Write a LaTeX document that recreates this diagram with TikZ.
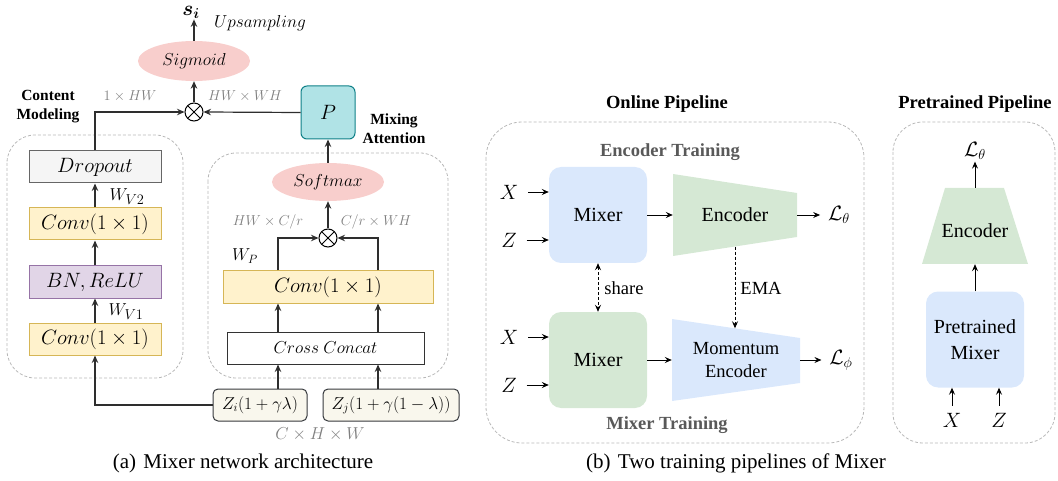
\documentclass[tikz,border=0pt]{standalone}
\usepackage{amsmath}
\usepackage[no-math]{fontspec}
\setmainfont{Liberation Serif}
\usetikzlibrary{shapes.geometric,arrows.meta,calc}

\definecolor{dropF}{HTML}{F5F5F5}\definecolor{dropD}{HTML}{666666}
\definecolor{yelF}{HTML}{FFF2CC}\definecolor{yelD}{HTML}{D6B656}
\definecolor{purF}{HTML}{E1D5E7}\definecolor{purD}{HTML}{9673A6}
\definecolor{pinkF}{HTML}{F8CECC}
\definecolor{tealF}{HTML}{B0E3E6}\definecolor{tealD}{HTML}{0E8088}
\definecolor{zF}{HTML}{F9F7ED}\definecolor{zD}{HTML}{36393D}
\definecolor{blueF}{HTML}{DAE8FC}\definecolor{greenF}{HTML}{D5E8D4}
\definecolor{grpD}{HTML}{B8B8B8}\definecolor{labG}{HTML}{7F7F7F}
\definecolor{subG}{HTML}{595959}

\tikzset{
  fs/.style={font=\rmfamily\fontsize{#1}{#1}\selectfont},
  blk/.style={draw, line width=1pt, minimum width=132pt, minimum height=32pt,
    inner sep=0pt, fs=20},
  ell/.style={ellipse, fill=pinkF, minimum width=112pt, minimum height=40pt,
    inner sep=0pt, fs=17.5},
  mul/.style={circle, draw, line width=1pt, minimum size=18pt, inner sep=0pt,
    path picture={\draw[line width=0.9pt]
      (path picture bounding box.north west)--(path picture bounding box.south east)
      (path picture bounding box.north east)--(path picture bounding box.south west);}},
  zbox/.style={draw=zD, fill=zF, line width=1pt, rounded corners=5pt,
    minimum height=32pt, inner sep=0pt, fs=18},
  grp/.style={draw=grpD, line width=0.8pt, dash pattern=on 3pt off 2pt},
  larr/.style={-{Stealth[length=7.5pt,width=6.5pt,inset=2.5pt]}, line width=1.2pt, draw=black!82},
  rarr/.style={-{Stealth[length=7pt,width=6pt,inset=2.5pt]}, line width=0.9pt, draw=black},
  glab/.style={text=labG, inner sep=0pt, fs=#1},
  title/.style={font=\rmfamily\fontsize{18.5}{22}\selectfont\bfseries},
  subt/.style={text=subG, font=\rmfamily\fontsize{18.5}{22}\selectfont\bfseries},
  mixbox/.style={rounded corners=12pt, minimum width=98pt, minimum height=96pt,
    inner sep=0pt, fs=20},
  mlab/.style={inner sep=0pt, fs=21},
}

\begin{document}
\begin{tikzpicture}[x=1pt,y=-1pt]
\useasboundingbox (0,0) rectangle (1058,481);

% ---------- (a) Mixer network architecture ----------
\draw[grp, rounded corners=28pt] (7,135) rectangle (183,378);
\draw[grp, rounded corners=28pt] (208,153) rectangle (448,378);

\node[blk, fill=dropF, draw=dropD] (drop) at (95,167) {$Dropout$};
\node[blk, fill=yelF, draw=yelD] (conv2) at (95,224) {$Conv(1\times 1)$};
\node[blk, fill=purF, draw=purD] (bn) at (95,282) {$BN, ReLU$};
\node[blk, fill=yelF, draw=yelD] (conv1) at (95,339) {$Conv(1\times 1)$};

\node[mul] (m1) at (194,112) {};
\node[ell] (sig) at (194,61) {$Sigmoid$};
\node[inner sep=1pt, fs=20] (si) at (191,12) {$\boldsymbol{s_i}$};
\node[inner sep=0pt, fs=17.5] (up) at (260,23) {$Upsampling$};
\node[draw=tealD, fill=tealF, line width=1pt, rounded corners=6pt,
  minimum width=54pt, minimum height=53pt, inner sep=0pt, fs=20] (P) at (328,112.5) {$P$};

\node[align=center, font=\rmfamily\fontsize{15.5}{19}\selectfont\bfseries] (cm) at (48,107) {Content\\Modeling};
\node[align=center, font=\rmfamily\fontsize{15.5}{19}\selectfont\bfseries] (ma) at (394,129) {Mixing\\Attention};

\node[glab=14] (l1hw) at (130,96) {$1\times HW$};
\node[glab=14.5] (lhwwh) at (245,96) {$HW\times WH$};
\node[inner sep=0pt, fs=19] (wv2) at (127,197) {$W_{V2}$};
\node[inner sep=0pt, fs=19] (wv1) at (126,312) {$W_{V1}$};

\draw[larr] (drop.north) |- (m1.west);
\draw[larr] (P.west) -- (m1.east);
\draw[larr] (m1.north) -- (sig.south);
\draw[larr] (sig.north) -- (sig.north |- si.south);
\draw[larr] (conv2.north) -- (drop.south);
\draw[larr] (bn.north) -- (conv2.south);
\draw[larr] (conv1.north) -- (bn.south);

\node[ell, minimum height=38pt] (soft) at (328,182) {$Softmax$};
\node[mul] (m2) at (328,238) {};
\node[blk, fill=yelF, draw=yelD, minimum width=210pt] (conv3) at (328,287) {$Conv(1\times 1)$};
\node[blk, fill=white, draw=black!80, minimum width=197pt, fs=17.5] (cc) at (325.5,348) {$Cross\ Concat$};
\node[zbox, minimum width=94pt] (zi) at (260,405) {$Z_i(1+\gamma\lambda)$};
\node[zbox, minimum width=136pt] (zj) at (391,405) {$Z_j(1+\gamma(1-\lambda))$};

\node[glab=15.7] (lhwc) at (268,222) {$HW\times C/r$};
\node[glab=15.7] (lcwh) at (376,222) {$C/r\times WH$};
\node[inner sep=0pt, fs=18] (wp) at (245,256) {$W_P$};
\node[glab=17.5] (lchw) at (320,434) {$C\times H\times W$};

\coordinate (cl) at (278,0);
\coordinate (cr) at (378,0);
\draw[larr] (soft.north) -- (P.south);
\draw[larr] (m2.north) -- (soft.south);
\draw[larr] (conv3.north -| cl) |- (m2.west);
\draw[larr] (conv3.north -| cr) |- (m2.east);
\draw[larr] (cc.north -| cl) -- (conv3.south -| cl);
\draw[larr] (cc.north -| cr) -- (conv3.south -| cr);
\draw[larr] (zi.north -| cl) -- (cc.south -| cl);
\draw[larr] (zj.north -| cr) -- (cc.south -| cr);
\draw[larr] (zi.west) -| (conv1.south);

\node[fs=21] (capa) at (243,463) {(a)\hspace{0.35em}Mixer network architecture};

% ---------- (b) Two training pipelines ----------
\draw[grp, rounded corners=36pt] (486,122) rectangle (864,443);
\draw[grp, rounded corners=30pt] (893,122) rectangle (1055,443);

\node[title] (tonl) at (667,104) {Online Pipeline};
\node[title] (tpre) at (975,104) {Pretrained Pipeline};
\node[subt] (tenc) at (670,152) {Encoder Training};
\node[subt] (tmix) at (667,425) {Mixer Training};

\node[mixbox, fill=blueF] (mx1) at (598,215) {Mixer};
\node[mixbox, fill=greenF] (mx2) at (598,360) {Mixer};

\node[mlab, outer xsep=10pt] (x1) at (509,192) {$X$};
\node[mlab, outer xsep=10pt] (z1) at (509,240) {$Z$};
\node[mlab, outer xsep=10pt] (x2) at (509,337) {$X$};
\node[mlab, outer xsep=10pt] (z2) at (509,385) {$Z$};
\draw[rarr] (x1.east) -- (x1.east -| mx1.west);
\draw[rarr] (z1.east) -- (z1.east -| mx1.west);
\draw[rarr] (x2.east) -- (x2.east -| mx2.west);
\draw[rarr] (z2.east) -- (z2.east -| mx2.west);

\fill[greenF] (673,174) -- (797,193) -- (797,237) -- (673,256) -- cycle;
\node[minimum width=124pt, minimum height=63pt, inner sep=0pt, fs=20] (enc) at (735,215) {Encoder};
\fill[blueF] (672,319) -- (800,338) -- (800,383) -- (672,401) -- cycle;
\node[minimum width=128pt, minimum height=63pt, inner sep=0pt, align=center,
  font=\rmfamily\fontsize{18.5}{23}\selectfont] (menc) at (736,360) {Momentum\\Encoder};

\node[mlab, outer xsep=8pt] (lt) at (839,215) {$\mathcal{L}_\theta$};
\node[mlab, outer xsep=8pt] (lf) at (841,360) {$\mathcal{L}_\phi$};

\draw[rarr] (mx1.east) -- (enc.west);
\draw[rarr] (enc.east) -- (lt.west);
\draw[rarr] (mx2.east) -- (menc.west);
\draw[rarr] (menc.east) -- (lf.west);
\draw[rarr, {Stealth[length=7pt,width=6pt,inset=2.5pt]}-{Stealth[length=7pt,width=6pt,inset=2.5pt]},
  dash pattern=on 3pt off 2pt] (mx1.south) -- (mx2.north);
\draw[rarr, dash pattern=on 3pt off 2pt] (enc.south) -- (enc.south |- menc.north);
\node[fs=18.5] (lshare) at (624,288) {share};
\node[fs=18.5] (lema) at (761,288) {EMA};

% pretrained pipeline
\fill[greenF] (945,188) -- (1004,188) -- (1028,264) -- (922,264) -- cycle;
\node[minimum width=82pt, minimum height=76pt, inner sep=0pt, fs=20] (penc) at (975,226)
  {\raisebox{-5pt}[\height][\depth]{Encoder}};
\node[mlab, outer ysep=2pt] (lp) at (975,151) {$\mathcal{L}_\theta$};
\node[mixbox, fill=blueF, align=center, font=\rmfamily\fontsize{20}{26}\selectfont] (pmx) at (975,339.5) {Pretrained\\Mixer};
\node[mlab, outer ysep=7pt] (px) at (952,420) {$X$};
\node[mlab, outer ysep=7pt] (pz) at (999,420) {$Z$};
\draw[rarr] (penc.north) -- (lp.south);
\draw[rarr] (pmx.north) -- (penc.south);
\draw[rarr] (px.north) -- (px.north |- pmx.south);
\draw[rarr] (pz.north) -- (pz.north |- pmx.south);

\node[fs=21] (capb) at (736,463) {(b)\hspace{0.35em}Two training pipelines of Mixer};
\end{tikzpicture}
\end{document}
